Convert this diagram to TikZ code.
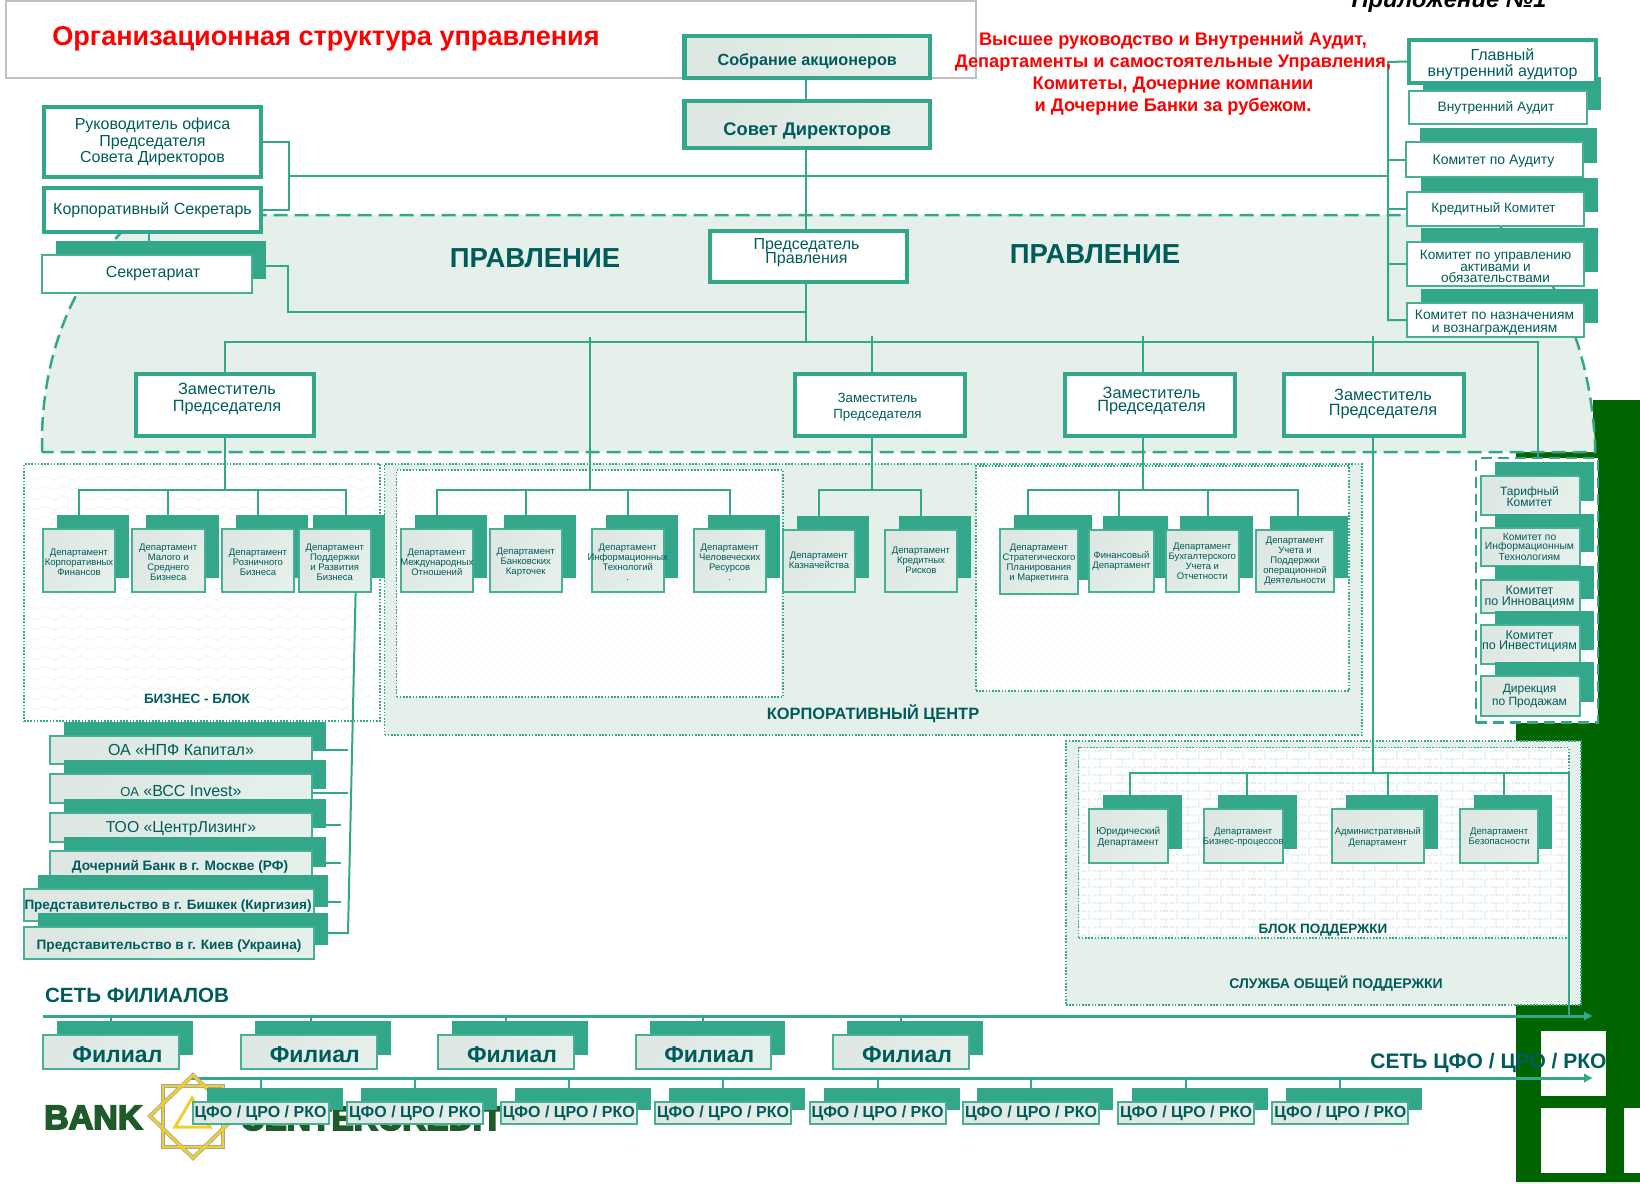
\documentclass[tikz,border=0pt]{standalone}
\usepackage{fontspec}
\setmainfont{Liberation Sans}
\newfontfamily\logofont[BoldFeatures={FakeBold=5}]{Liberation Sans}
\usetikzlibrary{calc,patterns,shadows,arrows.meta}
\definecolor{boxgreen}{HTML}{33A78A}
\definecolor{edgegreen}{HTML}{45B096}
\definecolor{textgreen}{HTML}{005C5A}
\definecolor{areagreen}{HTML}{E6F0EB}
\definecolor{forest}{HTML}{006400}
\definecolor{logogreen}{HTML}{1F5A2A}
\definecolor{gold}{HTML}{EFD02A}
\pgfdeclarelayer{back}
\pgfdeclarelayer{lines}
\pgfsetlayers{back,lines,main}
\pgfdeclarepatternformonly{zigzagfill}{\pgfqpoint{-1pt}{-1pt}}{\pgfqpoint{19pt}{11pt}}{\pgfqpoint{18pt}{10pt}}{
	\pgfsetlinewidth{1pt}
	\pgfpathmoveto{\pgfqpoint{0pt}{3pt}}\pgfpathlineto{\pgfqpoint{9pt}{7pt}}\pgfpathlineto{\pgfqpoint{18pt}{3pt}}
	\pgfusepath{stroke}}
\pgfdeclarepatternformonly{dotfill}{\pgfqpoint{0pt}{0pt}}{\pgfqpoint{8pt}{8pt}}{\pgfqpoint{8pt}{8pt}}{
	\pgfpathcircle{\pgfqpoint{2pt}{2pt}}{1.1pt}\pgfpathcircle{\pgfqpoint{6pt}{6pt}}{1.1pt}
	\pgfusepath{fill}}
\pgfdeclarepatternformonly{brickfill}{\pgfqpoint{-1pt}{-1pt}}{\pgfqpoint{23pt}{17pt}}{\pgfqpoint{22pt}{16pt}}{
	\pgfsetlinewidth{2pt}
	\pgfpathmoveto{\pgfqpoint{0pt}{0pt}}\pgfpathlineto{\pgfqpoint{22pt}{0pt}}
	\pgfpathmoveto{\pgfqpoint{0pt}{8pt}}\pgfpathlineto{\pgfqpoint{22pt}{8pt}}
	\pgfpathmoveto{\pgfqpoint{0pt}{0pt}}\pgfpathlineto{\pgfqpoint{0pt}{8pt}}
	\pgfpathmoveto{\pgfqpoint{11pt}{8pt}}\pgfpathlineto{\pgfqpoint{11pt}{16pt}}
	\pgfusepath{stroke}}
\tikzset{
	fs/.style 2 args={font=\fontsize{#1}{#2}\selectfont},
	fb/.style 2 args={font=\bfseries\fontsize{#1}{#2}\selectfont},
	tshift/.style 2 args={xshift=#1,yshift=#2},
	gradfill/.style={left color=areagreen!92!gray,right color=areagreen,shading angle=60},
	thickbox/.style={draw=boxgreen,line width=4.5pt,fill=white},
	thinbox/.style={draw=edgegreen,line width=1.6pt,fill=white},
	shadowed/.style={general shadow={fill=boxgreen,shadow xshift=14pt,shadow yshift=14pt}},
	deptbox/.style={draw=edgegreen,line width=2pt,gradfill,shadowed},
	dotline/.style={draw=boxgreen,line width=1.8pt,dash pattern=on 1.6pt off 1.6pt},
	link/.style={draw=boxgreen,line width=2pt},
	bigarrow/.style={draw=boxgreen,line width=3pt,-{Latex[length=9pt,width=10pt]}},
	blocklabel/.style={text=textgreen,inner sep=0pt,font=\bfseries\fontsize{13.5}{15}\selectfont},
	redtext/.style={text=red,inner sep=0pt,font=\bfseries\fontsize{18.2}{22}\selectfont,align=center}
}
\def\boxnode[#1](#2)(#3,#4,#5,#6)[#7]#8{\node[#1,inner sep=0pt,minimum width={#5-#3},minimum height={#6-#4},label={[#7]center:{#8}}] (#2) at ({(#3+#5)/2},{(#4+#6)/2}) {};}

\begin{document}
\begin{tikzpicture}[x=1pt,y=-1pt,every label/.style={text=textgreen,align=center,inner sep=0pt,font=\fontsize{9.5}{10}\selectfont}]
		\useasboundingbox (0,0) rectangle (1640,1183);
		
		%%%%% BACKGROUND %%%%%
		\begin{pgfonlayer}{back}
		\fill[forest] (1593,400) -- (1640,400) -- (1640,1182) -- (1516,1182) -- (1516,452) -- (1593,452) -- cycle;
		\fill[white] (1541,1031) rectangle (1606,1096);
		\fill[white] (1541,1108) rectangle (1606,1173);
		\fill[white] (1624,1108) rectangle (1640,1173);
		
		\draw[line width=2.5pt, color=black!25, fill=white] (6,1) rectangle (976,78);
		
		\draw[draw=boxgreen, line width=2.5pt, dash pattern=on 14pt off 7pt, fill=areagreen]
			(42,452) -- (42,435) .. controls (44,350) and (75,270) .. (140,215) -- (1480,215)
			.. controls (1540,240) and (1590,330) .. (1595,445) -- (1595,452) -- cycle;
		
		\boxnode[dotline,preaction={fill=white},pattern=zigzagfill,pattern color=areagreen](areaBiz)(24,464,380,721)[]{}
		\boxnode[dotline,fill=areagreen](areaCorp)(384.5,464,1362,735)[]{}
		\boxnode[dotline,preaction={fill=white},pattern=dotfill,pattern color=areagreen](areaCorpL)(396.5,470,783,697)[]{}
		\boxnode[dotline,preaction={fill=white},pattern=dotfill,pattern color=areagreen](areaCorpR)(976,466,1349,691)[]{}
		\boxnode[dotline,fill=areagreen](areaServ)(1066,741,1581,1005)[]{}
		\boxnode[dotline,preaction={fill=white},pattern=brickfill,pattern color=areagreen](areaSupp)(1078.5,747.5,1569,938)[]{}
		\boxnode[draw=boxgreen,line width=2.5pt,dash pattern=on 11pt off 6pt,fill=white](areaKom)(1476,458,1598,722.5)[]{}
		\end{pgfonlayer}
		
		%%%%% HEADINGS %%%%%
		\node[text=red,inner sep=0pt,font=\bfseries\fontsize{27.1}{30}\selectfont] (title) at (326,39) {Организационная структура управления};
		\node[text=black,inner sep=0pt,font=\bfseries\itshape\fontsize{23.8}{24}\selectfont] (annex) at (1449,2) {Приложение №1};
		\node[redtext] (redNote) at (1173,74) {Высшее руководство и Внутренний Аудит,\\Департаменты и самостоятельные Управления,\\Комитеты, Дочерние компании\\и  Дочерние Банки за рубежом.};
		\node[text=textgreen,inner sep=0pt,font=\bfseries\fontsize{27.5}{30}\selectfont] (pravL) at (535,258) {ПРАВЛЕНИЕ};
		\node[text=textgreen,inner sep=0pt,font=\bfseries\fontsize{27.5}{30}\selectfont] (pravR) at (1095,254) {ПРАВЛЕНИЕ};
		\node[blocklabel] (lblBiz) at (197,699) {БИЗНЕС - БЛОК};
		\node[blocklabel,font=\bfseries\fontsize{16.4}{17}\selectfont] (lblCorp) at (873,714) {КОРПОРАТИВНЫЙ  ЦЕНТР};
		\node[blocklabel] (lblSupp) at (1323,930) {БЛОК  ПОДДЕРЖКИ};
		\node[blocklabel,font=\bfseries\fontsize{14}{15}\selectfont] (lblServ) at (1336,984) {СЛУЖБА  ОБЩЕЙ  ПОДДЕРЖКИ};
		\node[text=textgreen,inner sep=0pt,font=\bfseries\fontsize{20.6}{22}\selectfont] (netFil) at (137,995) {СЕТЬ ФИЛИАЛОВ};
		\node[text=textgreen,inner sep=0pt,font=\bfseries\fontsize{21}{22}\selectfont] (netCfo) at (1488.5,1063) {СЕТЬ ЦФО / ЦРО /  РКО};
		
		%%%%% TOP MANAGEMENT %%%%%
		\boxnode[draw=boxgreen,line width=4.5pt,gradfill](sobranie)(684.5,36,930,78)[fb={16.2}{18},tshift={0}{-4}]{Собрание акционеров}
		\boxnode[draw=boxgreen,line width=4.5pt,gradfill](sovet)(684.5,101,930,148)[fb={18.3}{20},tshift={0}{-6.5}]{Совет Директоров}
		\boxnode[thickbox](rukOf)(44,107,261,177)[fs={16}{16.5}]{Руководитель офиса\\Председателя\\Совета Директоров}
		\boxnode[thickbox](korpSek)(44,188,261,232)[fs={16}{17}]{Корпоративный Секретарь}
		\boxnode[thinbox,shadowed](sekret)(42,255,252,293)[fs={16}{17},tshift={6}{0}]{Секретариат}
		\boxnode[thickbox](predPr)(710,231,907,282)[fs={16}{14.5},tshift={-2}{4}]{Председатель\\Правления}
		
		\boxnode[thickbox](zam1)(136,374,314,436)[fs={16.3}{16.5},tshift={2}{6}]{Заместитель\\Председателя}
		\boxnode[thickbox](zam2)(795,374,965,436)[fs={13.3}{16},tshift={-2.5}{-2}]{Заместитель\\Председателя}
		\boxnode[thickbox](zam3)(1065,374,1235,436)[fs={16.3}{13},tshift={1.5}{4}]{Заместитель\\Председателя}
		\boxnode[thickbox](zam4)(1284,374,1464,436)[fs={16.3}{15.7},tshift={9}{1}]{Заместитель\\Председателя}
		
		%%%%% AUDIT AND COMMITTEES %%%%%
		\boxnode[thinbox,shadowed](vnAud)(1409,91,1587,124)[fs={13.7}{14},tshift={-2}{0}]{Внутренний Аудит}
		\boxnode[draw=boxgreen,line width=3.5pt,fill=white](glAud)(1409,40,1596,83)[fs={16}{16},tshift={0}{-2.5}]{Главный\\внутренний аудитор}
		\boxnode[thinbox,shadowed](kom1)(1406,142,1583,177)[fs={14}{14},tshift={-1}{-1.5}]{Комитет по  Аудиту}
		\boxnode[thinbox,shadowed](kom2)(1407,192,1584,226)[fs={13.5}{14},tshift={-2}{0}]{Кредитный Комитет}
		\boxnode[thinbox,shadowed](kom3)(1407,242,1584,286)[fs={13.6}{11.5},tshift={0}{-2.5}]{Комитет по  управлению\\активами и\\обязательствами}
		\boxnode[thinbox,shadowed](kom4)(1407,303,1584,337)[fs={13.8}{13},tshift={-1}{-3}]{Комитет по  назначениям\\и вознаграждениям}
		
		%%%%% BUSINESS BLOCK AND CORPORATE CENTRE %%%%%
		\boxnode[deptbox](dep1)(43,528.7,115,592)[tshift={0}{-1.5}]{Департамент\\Корпоративных\\Финансов}
		\boxnode[deptbox](dep2)(132,528.7,204.5,592)[tshift={0}{-1.5}]{Департамент\\Малого и\\Среднего\\Бизнеса}
		\boxnode[deptbox](dep3)(222,528.7,294,592)[tshift={0}{-1.5}]{Департамент\\Розничного\\Бизнеса}
		\boxnode[deptbox](dep4)(298.6,528.7,371,592)[tshift={0}{-1.5}]{Департамент\\Поддержки\\и Развития\\Бизнеса}
		\boxnode[deptbox](dep5)(400.6,528.7,473,592)[tshift={0}{-1.5}]{Департамент\\Международных\\Отношений}
		\boxnode[deptbox](dep6)(489.5,528.7,562,592)[tshift={0}{-1.5}]{Департамент\\Банковских\\Карточек}
		\boxnode[deptbox](dep7)(591.5,528.7,664,592)[tshift={0}{-1.5}]{Департамент\\Информационных\\Технологий\\.}
		\boxnode[deptbox](dep8)(693.5,528.7,766,592)[tshift={0}{-1.5}]{Департамент\\Человеческих\\Ресурсов\\.}
		\boxnode[deptbox](dep9)(783,529.5,855,592)[]{Департамент\\Казначейства}
		\boxnode[deptbox](dep10)(884.5,529.5,957.4,592)[]{Департамент\\Кредитных\\Рисков}
		\boxnode[deptbox](dep11)(1000,528.6,1078,594)[tshift={0}{-1.5}]{Департамент\\Стратегического\\Планирования\\и Маркетинга}
		\boxnode[deptbox](dep12)(1089,530,1154,592)[]{Финансовый\\Департамент}
		\boxnode[deptbox](dep13)(1166,530,1238.5,592)[]{Департамент\\Бухгалтерского\\Учета и\\Отчетности}
		\boxnode[deptbox](dep14)(1256,530,1334,592)[]{Департамент\\Учета и\\Поддержки\\операционной\\Деятельности}
		
		%%%%% COMMITTEES BELOW THE BOARD %%%%%
		\boxnode[deptbox](sub1)(1481,476,1580,515)[fs={12}{11},tshift={-1}{-1.5}]{Тарифный\\Комитет}
		\boxnode[deptbox](sub2)(1481,528,1580,566)[fs={10.3}{9},tshift={-1}{0}]{Комитет по\\Информационным\\Технологиям}
		\boxnode[deptbox](sub3)(1481,580,1580,613)[fs={12.5}{11},tshift={-1}{0}]{Комитет\\по Инновациям}
		\boxnode[deptbox](sub4)(1481,625,1580,663.6)[fs={12.5}{8.5},tshift={-1}{3}]{Комитет\\по Инвестициям}
		\boxnode[deptbox](sub5)(1481,676,1580,716)[fs={12}{13},tshift={-1}{0}]{Дирекция\\по Продажам}
		
		%%%%% SUPPORT BLOCK %%%%%
		\boxnode[deptbox](sup1)(1089,809,1167.6,862.5)[fs={10}{11},tshift={0}{-1.5}]{Юридический\\Департамент}
		\boxnode[deptbox](sup2)(1204,809,1282.5,862.5)[fs={9.5}{10},tshift={0}{-1}]{Департамент\\Бизнес-процессов}
		\boxnode[deptbox](sup3)(1332,809,1423.6,862.5)[fs={9.5}{11},tshift={0}{-1.5}]{Административный\\Департамент}
		\boxnode[deptbox](sup4)(1460,809,1538.4,862.5)[fs={9.5}{10},tshift={0}{-1}]{Департамент\\Безопасности}
		
		%%%%% SUBSIDIARIES %%%%%
		\boxnode[deptbox](dau1)(50,736,312,764)[fs={16}{18}]{ОА «НПФ Капитал»}
		\boxnode[deptbox](dau2)(50,774,312,803)[fs={16}{18},tshift={0}{-2}]{{\fontsize{13}{18}\selectfont ОА} «ВСС Invest»}
		\boxnode[deptbox](dau3)(50,813,312,842)[fs={15.8}{18},tshift={0}{-1}]{ТОО «ЦентрЛизинг»}
		\boxnode[deptbox](dau4)(50,851,312,881)[fb={13.7}{15},tshift={-1}{-0.5}]{Дочерний Банк в г. Москве (РФ)}
		\boxnode[deptbox](dau5)(24,889,314,921)[fb={13.5}{15},tshift={-1}{-0.5}]{Представительство в г. Бишкек (Киргизия)}
		\boxnode[deptbox](dau6)(24,927,314,959)[fb={13.65}{15},tshift={0}{-3}]{Представительство в г. Киев (Украина)}
		
		%%%%% LOGO %%%%%
		\node[text=logogreen,inner sep=0pt,anchor=base west,font=\logofont\bfseries\fontsize{34}{36}\selectfont] (bankWord) at (44,1129) {BANK};
		\node[text=logogreen,inner sep=0pt,anchor=base west,font=\logofont\bfseries\fontsize{33.5}{34}\selectfont] (centerWord) at (240,1130) {CENTERCREDIT};
		\draw[black!35, line width=4pt] (163,1086) rectangle (223,1147);
		\draw[black!35, line width=4pt] (193,1075) -- (236,1116) -- (193,1158) -- (150,1116) -- cycle;
		\draw[gold, line width=2.5pt] (163,1086) rectangle (223,1147);
		\draw[gold, line width=2.5pt] (193,1075) -- (236,1116) -- (193,1158) -- (150,1116) -- cycle;
		\draw[gold, line width=3pt] (175,1127) -- (192,1098) -- (210,1127) -- cycle;
		
		%%%%% BRANCHES %%%%%
		\boxnode[deptbox](fil1)(43.4,1035,179.4,1069)[fb={23}{25},tshift={6}{-3}]{Филиал}
		\boxnode[deptbox](fil2)(241,1035,376.6,1069)[fb={23}{25},tshift={6}{-3}]{Филиал}
		\boxnode[deptbox](fil3)(438,1035,574,1069)[fb={23}{25},tshift={6}{-3}]{Филиал}
		\boxnode[deptbox](fil4)(635.5,1035,771,1069)[fb={23}{25},tshift={6}{-3}]{Филиал}
		\boxnode[deptbox](fil5)(833,1035,969,1069)[fb={23}{25},tshift={6}{-3}]{Филиал}
		
		\boxnode[deptbox](cfo1)(192.5,1102,328.5,1124)[fb={16}{17}]{ЦФО / ЦРО / РКО}
		\boxnode[deptbox](cfo2)(347,1102,483,1124)[fb={16}{17}]{ЦФО / ЦРО / РКО}
		\boxnode[deptbox](cfo3)(501,1102,636.5,1124)[fb={16}{17}]{ЦФО / ЦРО / РКО}
		\boxnode[deptbox](cfo4)(655,1102,791,1124)[fb={16}{17}]{ЦФО / ЦРО / РКО}
		\boxnode[deptbox](cfo5)(809.6,1102,945.5,1124)[fb={16}{17}]{ЦФО / ЦРО / РКО}
		\boxnode[deptbox](cfo6)(963,1102,1099,1124)[fb={16}{17}]{ЦФО / ЦРО / РКО}
		\boxnode[deptbox](cfo7)(1118,1102,1254,1124)[fb={16}{17}]{ЦФО / ЦРО / РКО}
		\boxnode[deptbox](cfo8)(1272.4,1102,1408.4,1124)[fb={16}{17}]{ЦФО / ЦРО / РКО}
		
		%%%%% CONNECTORS %%%%%
		\coordinate (trunk) at (806,342);
		\coordinate (brk) at (289,176);
		\coordinate (sekTurn) at (288,312);
		\coordinate (rvTop) at (1388,62);
		\coordinate (rvBot) at (1388,320);
		\coordinate (busL) at (225,342);
		\coordinate (busR) at (1537.6,342);
		\coordinate (kmEnd) at (1537.6,458);
		\coordinate (top590) at (590,337);
		\coordinate (top872) at (872,336);
		\coordinate (top1143) at (1143,336);
		\coordinate (top1373) at (1373,336);
		\coordinate (busA) at (225,490);
		\coordinate (busB) at (590,490);
		\coordinate (busC) at (872,490);
		\coordinate (busD) at (1143,490);
		\coordinate (busE) at (1373,773);
		\coordinate (busEnd) at (1569,773);
		\coordinate (slantTop) at (355.6,592);
		\coordinate (slantBot) at (348,933);
		\coordinate (tick2) at (348,793);
		\coordinate (tick3) at (341,825);
		\coordinate (tick4) at (341,863);
		\coordinate (tick5) at (341,902);
		\coordinate (filL) at (43,1016);
		\coordinate (filR) at (1593,1016);
		\coordinate (cfoL) at (191,1078);
		\coordinate (cfoR) at (1593,1078);
		
		\begin{pgfonlayer}{lines}
		\draw[link] (sobranie.south -| trunk) -- (sovet.north -| trunk);
		\draw[link] (sovet.south -| trunk) -- (trunk);
		\draw[link] (rukOf.east) -| (brk);
		\draw[link] (korpSek.east) -| (brk);
		\draw[link] (brk) -- (brk -| rvTop);
		\draw[link] (korpSek.south -| 148.5,0) -- (sekret.north -| 148.5,0);
		\draw[link] ([yshift=8]sekret.east) -| (sekTurn) -- (sekTurn -| trunk);
		
		\draw[link] (glAud.west) -- (rvTop) -- (rvBot) -- (kom4.west);
		\draw[link] (kom1.west) -- (kom1.west -| rvTop);
		\draw[link] (kom2.west) -- (kom2.west -| rvTop);
		\draw[link] (kom3.west) -- (kom3.west -| rvTop);
		
		\draw[link] (busA) -- (busL) -- (busR) -- (kmEnd);
		\draw[link] (top590) -- (busB);
		\draw[link] (top872) -- (busC);
		\draw[link] (top1143) -- (busD);
		\draw[link] (top1373) -- (busE);
		
		\draw[link] (dep1.north) |- (busA);
		\draw[link] (dep2.north) |- (busA);
		\draw[link] (dep3.north) |- (busA);
		\draw[link] ([xshift=11]dep4.north) |- (busA);
		\draw[link] (dep5.north) |- (busB);
		\draw[link] (dep6.north) |- (busB);
		\draw[link] (dep7.north) |- (busB);
		\draw[link] (dep8.north) |- (busB);
		\draw[link] (dep9.north) |- (busC);
		\draw[link] (dep10.north) |- (busC);
		\draw[link] ([xshift=-11]dep11.north) |- (busD);
		\draw[link] ([xshift=-3]dep12.north) |- (busD);
		\draw[link] ([xshift=6]dep13.north) |- (busD);
		\draw[link] ([xshift=3]dep14.north) |- (busD);
		
		\draw[link] ([xshift=2]sup1.north) |- (busE);
		\draw[link] ([xshift=4]sup2.north) |- (busE);
		\draw[link] ([xshift=10]sup3.north) |- (busE);
		\draw[link] ([xshift=5]sup4.north) |- (busE);
		\draw[link] (busE) -- (busEnd) -- (busEnd |- filR);
		
		\draw[link] (slantTop) -- (slantBot) -- (dau6.east |- slantBot);
		\draw[link] (dau1.east) -- (dau1.east -| slantBot);
		\draw[link] (dau2.east |- tick2) -- (tick2);
		\draw[link] (dau3.east |- tick3) -- (tick3);
		\draw[link] (dau4.east |- tick4) -- (tick4);
		\draw[link] (dau5.east |- tick5) -- (tick5);
		
		\draw[bigarrow] (filL) -- (filR);
		\draw[bigarrow] (cfoL) -- (cfoR);
		\draw[link] (filL -| fil1) -- (fil1.north);
		\draw[link] ([xshift=2]fil2.north |- filL) -- ([xshift=2]fil2.north);
		\draw[link] (filL -| fil3) -- (fil3.north);
		\draw[link] (filL -| fil4) -- (fil4.north);
		\draw[link] (filL -| fil5) -- (fil5.north);
		\draw[link] (cfoL -| cfo1) -- (cfo1.north);
		\draw[link] (cfoL -| cfo2) -- (cfo2.north);
		\draw[link] (cfoL -| cfo3) -- (cfo3.north);
		\draw[link] (cfoL -| cfo4) -- (cfo4.north);
		\draw[link] (cfoL -| cfo5) -- (cfo5.north);
		\draw[link] (cfoL -| cfo6) -- (cfo6.north);
		\draw[link] (cfoL -| cfo7) -- (cfo7.north);
		\draw[link] (cfoL -| cfo8) -- (cfo8.north);
		\end{pgfonlayer}
		
		%%%%% END %%%%%
	\end{tikzpicture}
\end{document}
